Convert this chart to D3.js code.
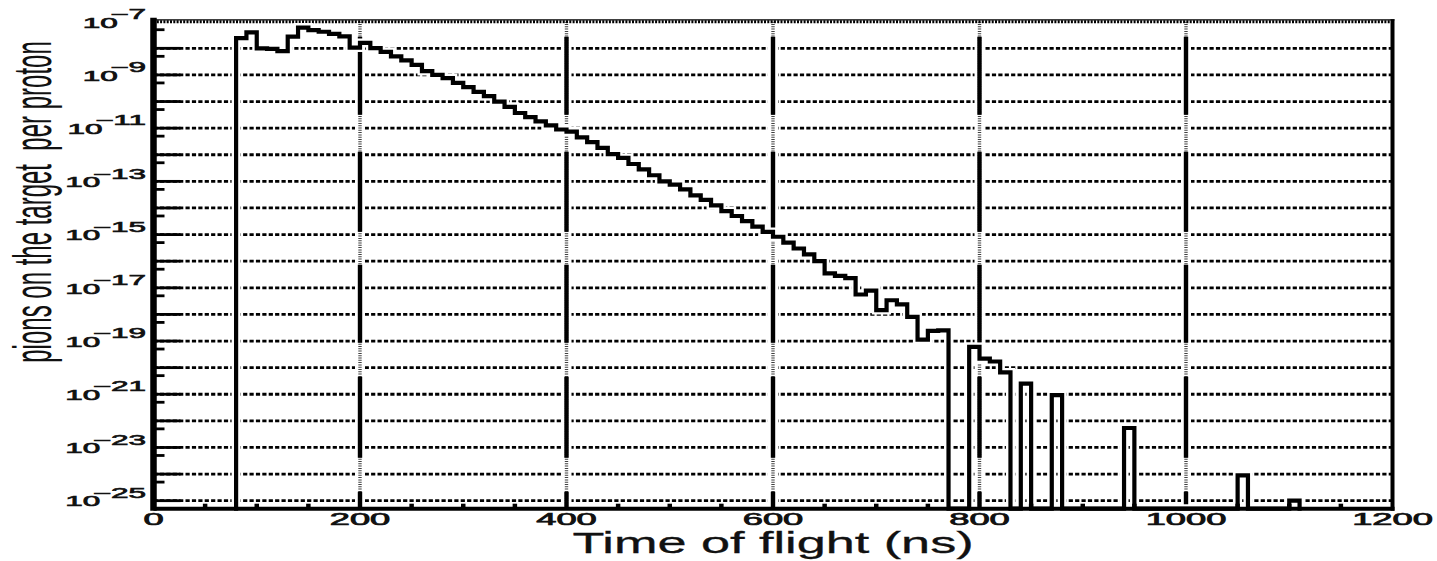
<!DOCTYPE html>
<html>
<head>
<meta charset="utf-8">
<script src="https://cdn.jsdelivr.net/npm/d3@7"></script>
<style>
  html, body { margin: 0; padding: 0; background: #fff; }
  svg { display: block; }
  text { font-family: "Liberation Sans", Arial, Helvetica, sans-serif; fill: #111; }
</style>
</head>
<body>
<svg id="chart" width="1437" height="561"></svg>
<script>
// Pion time-of-flight histogram, 10 ns bins. Bins that are not listed are empty.
const binWidthNs = 10;
const binStartNs = [
  80, 90, 100, 110, 120, 130, 140, 150, 160, 170, 180, 190,
  200, 210, 220, 230, 240, 250, 260, 270, 280, 290,
  300, 310, 320, 330, 340, 350, 360, 370, 380, 390,
  400, 410, 420, 430, 440, 450, 460, 470, 480, 490,
  500, 510, 520, 530, 540, 550, 560, 570, 580, 590,
  600, 610, 620, 630, 640, 650, 660, 670, 680, 690,
  700, 710, 720, 730, 740, 750, 760,
  790, 800, 810, 820, 840, 870, 940, 1050, 1100
];
const pionsPerProton = [
  2.4e-8, 4.0e-8, 1.0e-8, 9.5e-9, 7.9e-9, 2.75e-8, 6.0e-8, 4.8e-8, 4.2e-8, 3.5e-8, 2.8e-8, 1.07e-8,
  1.6e-8, 1.02e-8, 7.4e-9, 5.0e-9, 3.5e-9, 2.4e-9, 1.4e-9, 1.0e-9, 7.6e-10, 5.0e-10,
  3.5e-10, 2.3e-10, 1.6e-10, 1.0e-10, 6.3e-11, 3.7e-11, 2.6e-11, 1.8e-11, 1.26e-11, 8.9e-12,
  7.4e-12, 4.5e-12, 3.0e-12, 1.8e-12, 1.05e-12, 7.6e-13, 4.5e-13, 2.8e-13, 1.7e-13, 1.0e-13,
  7.6e-14, 5.0e-14, 3.0e-14, 2.0e-14, 1.26e-14, 7.6e-15, 5.0e-15, 3.2e-15, 2.0e-15, 1.26e-15,
  8.3e-16, 5.0e-16, 3.0e-16, 1.8e-16, 1.0e-16, 3.5e-17, 2.8e-17, 2.3e-17, 5.6e-18, 7.9e-18,
  1.45e-18, 3.4e-18, 2.4e-18, 8.1e-19, 1.12e-19, 2.4e-19, 2.5e-19,
  6.0e-20, 2.2e-20, 1.7e-20, 6.6e-21, 2.5e-21, 9.3e-22, 5.4e-23, 8.9e-25, 1.0e-25
];

const xTickValues = [0, 200, 400, 600, 800, 1000, 1200];
const xGridValues = [200, 400, 600, 800, 1000];
const xMinorTickValues = [50, 100, 150, 250, 300, 350, 450, 500, 550, 650, 700, 750,
                          850, 900, 950, 1050, 1100, 1150];
const yDecadeExponents = [-7, -8, -9, -10, -11, -12, -13, -14, -15, -16, -17, -18,
                          -19, -20, -21, -22, -23, -24, -25];
const yLabelExponents = [-7, -9, -11, -13, -15, -17, -19, -21, -23, -25];
const xAxisTitle = "Time of flight (ns)";
const yAxisTitle = "pions on the target  per proton";

const svg = d3.select("#chart");
const frame = { left: 153.5, right: 1392.5, top: 21.7, bottom: 508.7 };

const x = d3.scaleLinear().domain([0, 1200]).range([frame.left, frame.right]);
const y = d3.scaleLog().domain([5e-26, 1e-7]).range([frame.bottom, frame.top]);
const floorValue = y.domain()[0];

// ---- horizontal dashed grid, one line per decade ----
const gridH = svg.append("g");
gridH.selectAll("line")
  .data(yDecadeExponents.filter(e => e !== -7))
  .join("line")
  .attr("x1", frame.left).attr("x2", frame.right)
  .attr("y1", e => y(Math.pow(10, e))).attr("y2", e => y(Math.pow(10, e)))
  .attr("stroke", "#000").attr("stroke-width", 2.8)
  .attr("stroke-dasharray", "4.2,2.2");

// top edge: dense dotted line over a thin rule
svg.append("line")
  .attr("x1", frame.left).attr("x2", frame.right)
  .attr("y1", y(1e-7)).attr("y2", y(1e-7))
  .attr("stroke", "#000").attr("stroke-width", 3)
  .attr("stroke-dasharray", "2,1.3");
svg.append("line")
  .attr("x1", frame.left).attr("x2", frame.right + 2)
  .attr("y1", y(1e-7) - 1.8).attr("y2", y(1e-7) - 1.8)
  .attr("stroke", "#000").attr("stroke-width", 1.2);

// ---- vertical grid lines with a white margin ----
const gridV = svg.append("g");
gridV.selectAll("line.halo")
  .data(xGridValues).join("line").attr("class", "halo")
  .attr("x1", d => x(d)).attr("x2", d => x(d))
  .attr("y1", frame.top + 2).attr("y2", frame.bottom)
  .attr("stroke", "#fff").attr("stroke-width", 10);
gridV.selectAll("line.hatch")
  .data(xGridValues).join("line").attr("class", "hatch")
  .attr("x1", d => x(d)).attr("x2", d => x(d))
  .attr("y1", frame.top).attr("y2", frame.bottom)
  .attr("stroke", "#000").attr("stroke-width", 3.4).attr("stroke-opacity", 0.75)
  .attr("stroke-dasharray", "1,1.3");
gridV.selectAll("line.solid")
  .data(xGridValues).join("line").attr("class", "solid")
  .attr("x1", d => x(d)).attr("x2", d => x(d))
  .attr("y1", frame.top).attr("y2", frame.bottom)
  .attr("stroke", "#000").attr("stroke-width", 4.4)
  .attr("stroke-dasharray", "0,15,78,37,80,33,78,34,81,34,100");

// ---- histogram outline ----
const pts = [];
let prevEnd = null;
binStartNs.forEach((start, i) => {
  const v = pionsPerProton[i];
  if (prevEnd === null) pts.push([start, floorValue]);
  else if (start !== prevEnd) { pts.push([prevEnd, floorValue]); pts.push([start, floorValue]); }
  pts.push([start, v]);
  pts.push([start + binWidthNs, v]);
  prevEnd = start + binWidthNs;
});
pts.push([prevEnd, floorValue]);

const stepLine = d3.line().x(d => x(d[0])).y(d => y(d[1]));
svg.append("path").attr("d", stepLine(pts))
  .attr("fill", "none").attr("stroke", "#fff").attr("stroke-width", 9)
  .attr("stroke-linejoin", "miter");
svg.append("path").attr("d", stepLine(pts))
  .attr("fill", "none").attr("stroke", "#000").attr("stroke-width", 4.2)
  .attr("stroke-linejoin", "miter").attr("stroke-linecap", "square");

// ---- frame ----
svg.append("line") // bottom axis
  .attr("x1", frame.left).attr("x2", frame.right + 2)
  .attr("y1", frame.bottom).attr("y2", frame.bottom)
  .attr("stroke", "#000").attr("stroke-width", 4);
svg.append("line") // right edge
  .attr("x1", frame.right).attr("x2", frame.right)
  .attr("y1", frame.top - 2.5).attr("y2", frame.bottom + 2)
  .attr("stroke", "#000").attr("stroke-width", 4);
svg.append("line") // left axis
  .attr("x1", frame.left).attr("x2", frame.left)
  .attr("y1", frame.top - 4).attr("y2", frame.bottom + 2)
  .attr("stroke", "#000").attr("stroke-width", 6.5);

// y ticks: long at each decade, short at 5 x 10^n
svg.append("g").selectAll("line")
  .data(yDecadeExponents.filter(e => e !== -7))
  .join("line")
  .attr("x1", frame.left).attr("x2", frame.left + 27)
  .attr("y1", e => y(Math.pow(10, e))).attr("y2", e => y(Math.pow(10, e)))
  .attr("stroke", "#000").attr("stroke-width", 2.8);
svg.append("g").selectAll("line")
  .data(yDecadeExponents.slice(0, -1))
  .join("line")
  .attr("x1", frame.left).attr("x2", frame.left + 11)
  .attr("y1", e => y(5 * Math.pow(10, e - 1))).attr("y2", e => y(5 * Math.pow(10, e - 1)))
  .attr("stroke", "#000").attr("stroke-width", 2.8);

// x minor ticks
svg.append("g").selectAll("line")
  .data(xMinorTickValues)
  .join("line")
  .attr("x1", d => x(d)).attr("x2", d => x(d))
  .attr("y1", frame.bottom).attr("y2", frame.bottom - 5)
  .attr("stroke", "#000").attr("stroke-width", 4.5);

// ---- labels (horizontally widened type) ----
const tickSx = 2.2;
svg.append("g").selectAll("g")
  .data(xTickValues)
  .join("g")
  .attr("transform", d => `translate(${x(d)},525) scale(${tickSx},1)`)
  .append("text")
  .attr("text-anchor", "middle")
  .attr("font-size", 16.5)
  .attr("stroke", "#111").attr("stroke-width", 0.7)
  .text(d => d3.format("d")(d));

const yLab = svg.append("g").selectAll("g")
  .data(yLabelExponents)
  .join("g")
  .attr("transform", e => `translate(146,${y(Math.pow(10, e)) + 5.8}) scale(2.25,1)`)
  .append("text")
  .attr("text-anchor", "end")
  .attr("font-size", 14)
  .attr("stroke", "#111").attr("stroke-width", 0.6);
yLab.append("tspan").text("10");
yLab.append("tspan").attr("dx", -3.4).attr("dy", -8.6).attr("font-size", 14)
  .text(e => "\u2212" + Math.abs(e));

svg.append("g")
  .attr("transform", `translate(${(frame.left + frame.right) / 2},553) scale(1.8,1)`)
  .append("text")
  .attr("text-anchor", "middle")
  .attr("font-size", 29)
  .attr("stroke", "#111").attr("stroke-width", 0.3)
  .text(xAxisTitle);

svg.append("g")
  .attr("transform", "translate(51,202) scale(2.2,1) rotate(-90)")
  .append("text")
  .attr("text-anchor", "middle")
  .attr("font-size", 24)
  .style("white-space", "pre")
  .attr("fill", "#1a1a1a")
  .text(yAxisTitle);
</script>
</body>
</html>
